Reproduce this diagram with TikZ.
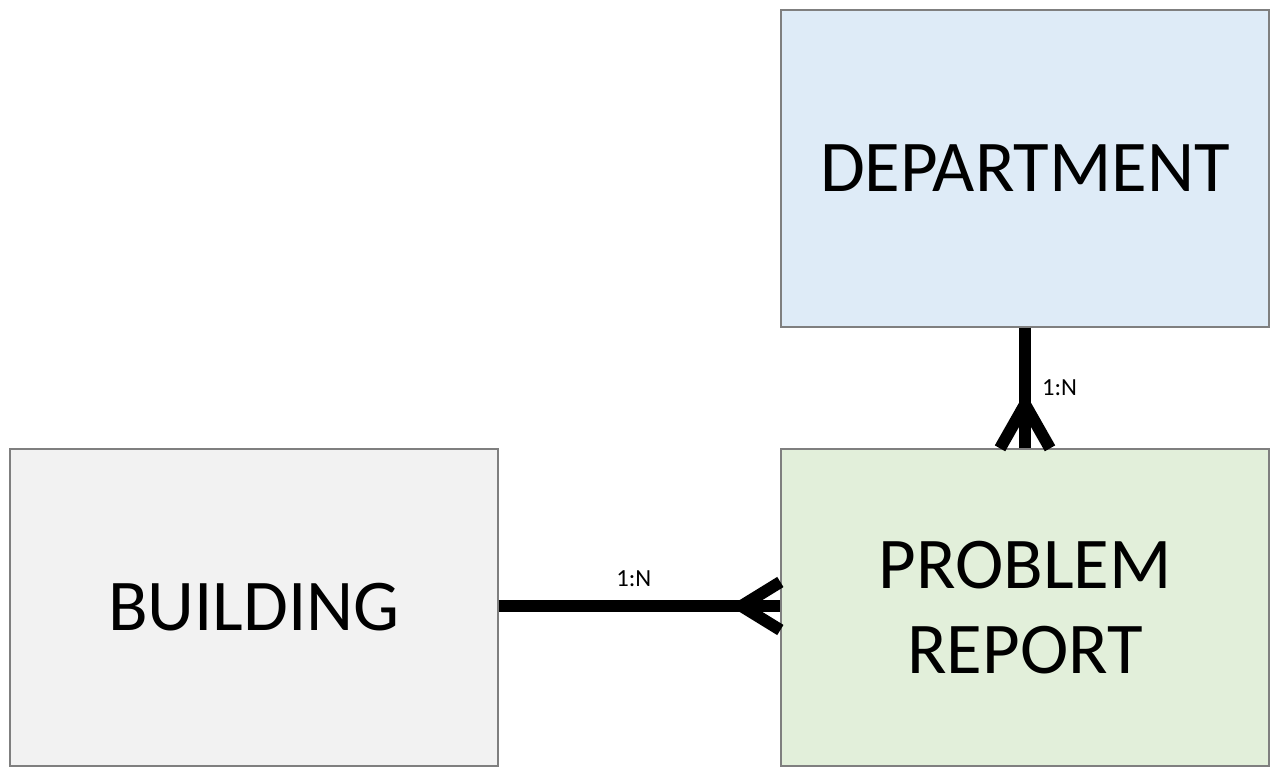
\documentclass[tikz,border=0pt]{standalone}
\usepackage{fontspec}
\setmainfont{Carlito}
\definecolor{deptblue}{HTML}{DEEBF7}
\definecolor{reportgreen}{HTML}{E2EFDA}
\definecolor{buildgray}{HTML}{F2F2F2}
\definecolor{boxline}{HTML}{7F7F7F}
\tikzset{entity/.style={draw=boxline,thick,minimum width=9.76cm,minimum height=6.34cm,align=center,font=\fontsize{41.5}{48}\selectfont},
  rel/.style={line width=6.8pt,black},
  card/.style={font=\fontsize{14}{16}\selectfont}}
\begin{document}
\begin{tikzpicture}[x=0.02cm,y=-0.02cm]
        \useasboundingbox (0,0) rectangle (1280,777);
        \node[entity,fill=deptblue] (dept) at (1025,168.5) {DEPARTMENT};
        \node[entity,fill=reportgreen] (report) at (1025,607.5) {PROBLEM\\REPORT};
        \node[entity,fill=buildgray] (build) at (254,607.5) {BUILDING};
        % department -- problem report
        \draw[rel] (dept.south) -- (report.north) node[pos=.5,right=3pt,card] {1:N};
        \coordinate (forkA) at ([yshift=44*0.02cm]report.north);
        \draw[rel] ([xshift=-25*0.02cm]report.north) -- (forkA) -- ([xshift=25*0.02cm]report.north);
        % building -- problem report
        \draw[rel] (build.east |- 0,606) coordinate (b1) -- (report.west |- 0,606) coordinate (r1)
          node[pos=.48,above=4pt,card] {1:N};
        \coordinate (forkB) at ([xshift=-39*0.02cm]r1);
        \draw[rel] ([yshift=24*0.02cm]r1) -- (forkB) -- ([yshift=-24*0.02cm]r1);
      \end{tikzpicture}
\end{document}
